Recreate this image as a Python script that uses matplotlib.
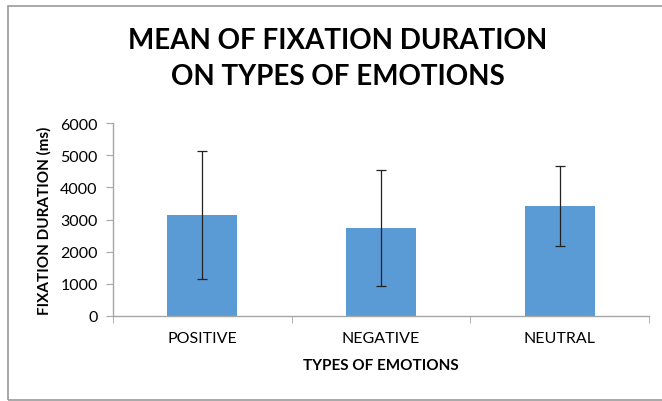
import matplotlib
matplotlib.use('Agg')
import matplotlib.pyplot as plt
from matplotlib.patches import Rectangle
import numpy as np

# chart data
categories = ['POSITIVE', 'NEGATIVE', 'NEUTRAL']
mean_ms = [3140, 2740, 3420]
sd_ms = [1990, 1810, 1230]
y_ticks = [0, 1000, 2000, 3000, 4000, 5000, 6000]

plt.rcParams['font.family'] = ['Lato', 'DejaVu Sans']

fig = plt.figure(figsize=(6.62, 4.02), dpi=100)
ax = fig.add_axes([113 / 662, 85 / 402, 536 / 662, 193 / 402])

# light frame round the chart (cut off on the right, as in the original)
fig.patches.append(Rectangle((8 / 662, 1.5 / 402), 700 / 662, 393.5 / 402,
                             transform=fig.transFigure, fill=False,
                             edgecolor='#9a9a9a', linewidth=1.2))

x = np.arange(len(categories))
ax.bar(x, mean_ms, width=0.39, color='#5b9bd5', zorder=2)
ax.errorbar(x, mean_ms, yerr=sd_ms, fmt='none', ecolor='#222222',
            elinewidth=0.9, capsize=3.5, capthick=0.9, zorder=3)

ax.set_xlim(-0.5, len(categories) - 0.5)
ax.set_ylim(0, 6000)
ax.set_yticks(y_ticks)
ax.set_yticklabels([str(v) for v in y_ticks], fontsize=11.5)
ax.set_xticks(x)
ax.set_xticklabels(categories, fontsize=11.5)
ax.tick_params(axis='x', length=0, pad=11)
ax.set_xticks(np.arange(-0.5, len(categories)), minor=True)
ax.tick_params(axis='x', which='minor', length=5, color='#a6a6a6')
ax.tick_params(axis='y', length=5, color='#a6a6a6', pad=6)

for side in ['top', 'right']:
    ax.spines[side].set_visible(False)
for side in ['left', 'bottom']:
    ax.spines[side].set_color('#a6a6a6')
    ax.spines[side].set_linewidth(1.0)

ax.set_xlabel('TYPES OF EMOTIONS', fontsize=11, fontweight='bold', labelpad=9)
ax.set_ylabel('FIXATION DURATION (ms)', fontsize=11, fontweight='bold', labelpad=6)

fig.text(338 / 662, 1 - 41 / 402, 'MEAN OF FIXATION DURATION', ha='center',
         va='center', fontsize=20, fontweight='bold')
fig.text(338 / 662, 1 - 77 / 402, 'ON TYPES OF EMOTIONS', ha='center',
         va='center', fontsize=20, fontweight='bold')

plt.savefig('out.png', dpi=100)
